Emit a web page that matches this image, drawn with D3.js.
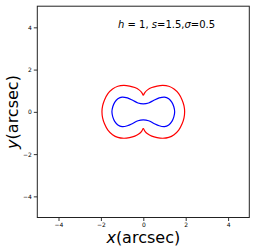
<!DOCTYPE html>
<html>
<head>
<meta charset="utf-8">
<script src="https://cdn.jsdelivr.net/npm/d3@7"></script>
<style>
  html, body { margin: 0; padding: 0; background: #fff; }
  svg { display: block; font-family: "DejaVu Sans", sans-serif; }
</style>
</head>
<body>
<div id="chart"></div>
<script>
// tick values for both axes
const xTicks = [-4, -2, 0, 2, 4];
const yTicks = [-4, -2, 0, 2, 4];

// upper-right quarter of each curve (arcsec)
// red: critical curve, cusps on the y axis
const redX = [0, 0.08, 0.2, 0.4, 0.65, 0.92, 1.2, 1.45, 1.67, 1.83, 1.92, 1.95];
const redY = [0.78, 0.92, 1.04, 1.15, 1.22, 1.25, 1.21, 1.08, 0.86, 0.56, 0.28, 0];
// blue: inner peanut-shaped curve
const blueX = [0, 0.25, 0.5, 0.75, 1.0, 1.2, 1.35, 1.44, 1.48];
const blueY = [0.38, 0.42, 0.55, 0.66, 0.70, 0.62, 0.45, 0.24, 0];

const W = 256, H = 251;

const svg = d3.select('#chart')
    .append('svg')
    .attr('width', W)
    .attr('height', H);

const x = d3.scaleLinear().domain([-5, 5]).range([37.3, 249.3]);
const y = d3.scaleLinear().domain([-5, 5]).range([217.5, 6.2]);

// axes
const fmt = d => (d < 0 ? '\u2212' + Math.abs(d) : '' + d);

const gx = svg.append('g')
    .attr('transform', `translate(0,${y(-5)})`)
    .call(d3.axisBottom(x).tickValues(xTicks).tickSize(3.5).tickPadding(2).tickFormat(fmt));
const gy = svg.append('g')
    .attr('transform', `translate(${x(-5)},0)`)
    .call(d3.axisLeft(y).tickValues(yTicks).tickSize(3.5).tickPadding(2).tickFormat(fmt));

[gx, gy].forEach((g) => {
    g.select('.domain').remove();
    g.selectAll('.tick line').attr('stroke', '#000').attr('stroke-width', 0.8);
    g.selectAll('.tick text')
        .attr('fill', '#000')
        .style('font-size', '6px')
        .style('font-family', '"DejaVu Sans", sans-serif');
});

// curves
const line = d3.line()
    .x(d => x(d[0]))
    .y(d => y(d[1]));

// right lobe of red: top cusp -> right side -> bottom cusp
function lobe(xs, ys, sign) {
    const top = xs.map((v, i) => [sign * v, ys[i]]);
    const bottom = xs.map((v, i) => [sign * v, -ys[i]]).reverse().slice(1);
    return top.concat(bottom);
}

// blue is one smooth closed curve
function closed(xs, ys) {
    const ur = xs.map((v, i) => [v, ys[i]]);
    const lr = xs.map((v, i) => [v, -ys[i]]).reverse().slice(1);
    const ll = xs.map((v, i) => [-v, -ys[i]]).slice(1);
    const ul = xs.map((v, i) => [-v, ys[i]]).reverse().slice(1, -1);
    return ur.concat(lr, ll, ul);
}

[1, -1].forEach((s) => {
    svg.append('path')
        .attr('d', line.curve(d3.curveCatmullRom)(lobe(redX, redY, s)))
        .attr('fill', 'none')
        .attr('stroke', '#ff0000')
        .attr('stroke-width', 1.2);
});

svg.append('path')
    .attr('d', line.curve(d3.curveCatmullRomClosed)(closed(blueX, blueY)))
    .attr('fill', 'none')
    .attr('stroke', '#0000ff')
    .attr('stroke-width', 1.2);

// frame
svg.append('rect')
    .attr('x', x(-5))
    .attr('y', y(5))
    .attr('width', x(5) - x(-5))
    .attr('height', y(-5) - y(5))
    .attr('fill', 'none')
    .attr('stroke', '#222')
    .attr('stroke-width', 1);

// annotation
const ann = svg.append('text')
    .attr('x', 118)
    .attr('y', 27.5)
    .style('font-size', '10px')
    .attr('fill', '#000');
ann.append('tspan').style('font-style', 'italic').text('h');
ann.append('tspan').text(' = 1, ');
ann.append('tspan').style('font-style', 'italic').text('s');
ann.append('tspan').text('=1.5,');
ann.append('tspan').style('font-style', 'italic').text('\u03c3');
ann.append('tspan').text('=0.5');

// axis labels
const xl = svg.append('text')
    .attr('x', 143.3)
    .attr('y', 243)
    .attr('text-anchor', 'middle')
    .style('font-size', '16px');
xl.append('tspan').style('font-style', 'italic').text('x');
xl.append('tspan').text('(arcsec)');

const yl = svg.append('text')
    .attr('transform', 'translate(18,112) rotate(-90)')
    .attr('text-anchor', 'middle')
    .style('font-size', '16px');
yl.append('tspan').style('font-style', 'italic').text('y');
yl.append('tspan').text('(arcsec)');
</script>
</body>
</html>
